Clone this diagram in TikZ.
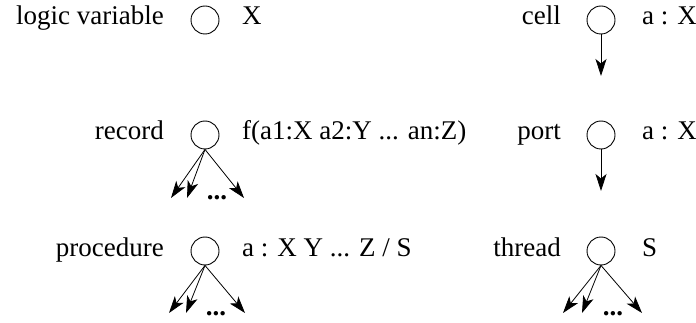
\documentclass[tikz,border=0pt]{standalone}
\usepackage{fontspec}
\setmainfont{Liberation Serif}
\usetikzlibrary{arrows.meta}
\begin{document}
\begin{tikzpicture}[x=1pt,y=-1pt,
  every node/.style={font=\fontsize{27}{32}\selectfont, inner sep=0pt},
  ent/.style={circle, draw, line width=0.9pt, minimum size=28pt},
  lbl/.style={anchor=base east},
  val/.style={anchor=base west},
  dotsl/.style={anchor=base, font=\fontsize{27}{32}\selectfont\bfseries},
  ptr/.style={line width=0.8pt, -{Stealth[length=17pt,width=11pt,inset=4.5pt]}}]
\useasboundingbox (0,0) rectangle (696,323);
% left column
\node[ent] (lv) at (205,20) {};
\node[lbl] (lvl) at (164,25) {logic variable};
\node[val] (lvv) at (242,25) {X};

\node[ent] (rec) at (205,135) {};
\node[lbl] (recl) at (164,140) {record};
\node[val] (recv) at (242,140) {f(a1:X a2:Y ... an:Z)};
\coordinate (r1) at (171,198);
\coordinate (r2) at (187,198);
\coordinate (r3) at (244,198);
\draw[ptr] (rec.south) -- (r1);
\draw[ptr] (rec.south) -- (r2);
\draw[ptr] (rec.south) -- (r3);
\node[dotsl] (recd) at (217,200) {...};

\node[ent] (proc) at (205,251) {};
\node[lbl] (procl) at (164,256) {procedure};
\node[val] (procv) at (242,256) {a : X Y ... Z / S};
\coordinate (p1) at (169,313);
\coordinate (p2) at (186,313);
\coordinate (p3) at (245,313);
\draw[ptr] (proc.south) -- (p1);
\draw[ptr] (proc.south) -- (p2);
\draw[ptr] (proc.south) -- (p3);
\node[dotsl] (procd) at (216,315) {...};

% right column
\node[ent] (cell) at (601,20) {};
\node[lbl] (celll) at (561,25) {cell};
\node[val] (cellv) at (642,25) {a : X};
\coordinate (c1) at (601,76);
\draw[ptr] (cell.south) -- (c1);

\node[ent] (port) at (601,135) {};
\node[lbl] (portl) at (561,140) {port};
\node[val] (portv) at (642,140) {a : X};
\coordinate (o1) at (601,191);
\draw[ptr] (port.south) -- (o1);

\node[ent] (thr) at (601,251) {};
\node[lbl] (thrl) at (561,256) {thread};
\node[val] (thrv) at (642,256) {S};
\coordinate (t1) at (563,313);
\coordinate (t2) at (582,313);
\coordinate (t3) at (642,313);
\draw[ptr] (thr.south) -- (t1);
\draw[ptr] (thr.south) -- (t2);
\draw[ptr] (thr.south) -- (t3);
\node[dotsl] (thrd) at (613,315) {...};
\end{tikzpicture}
\end{document}
